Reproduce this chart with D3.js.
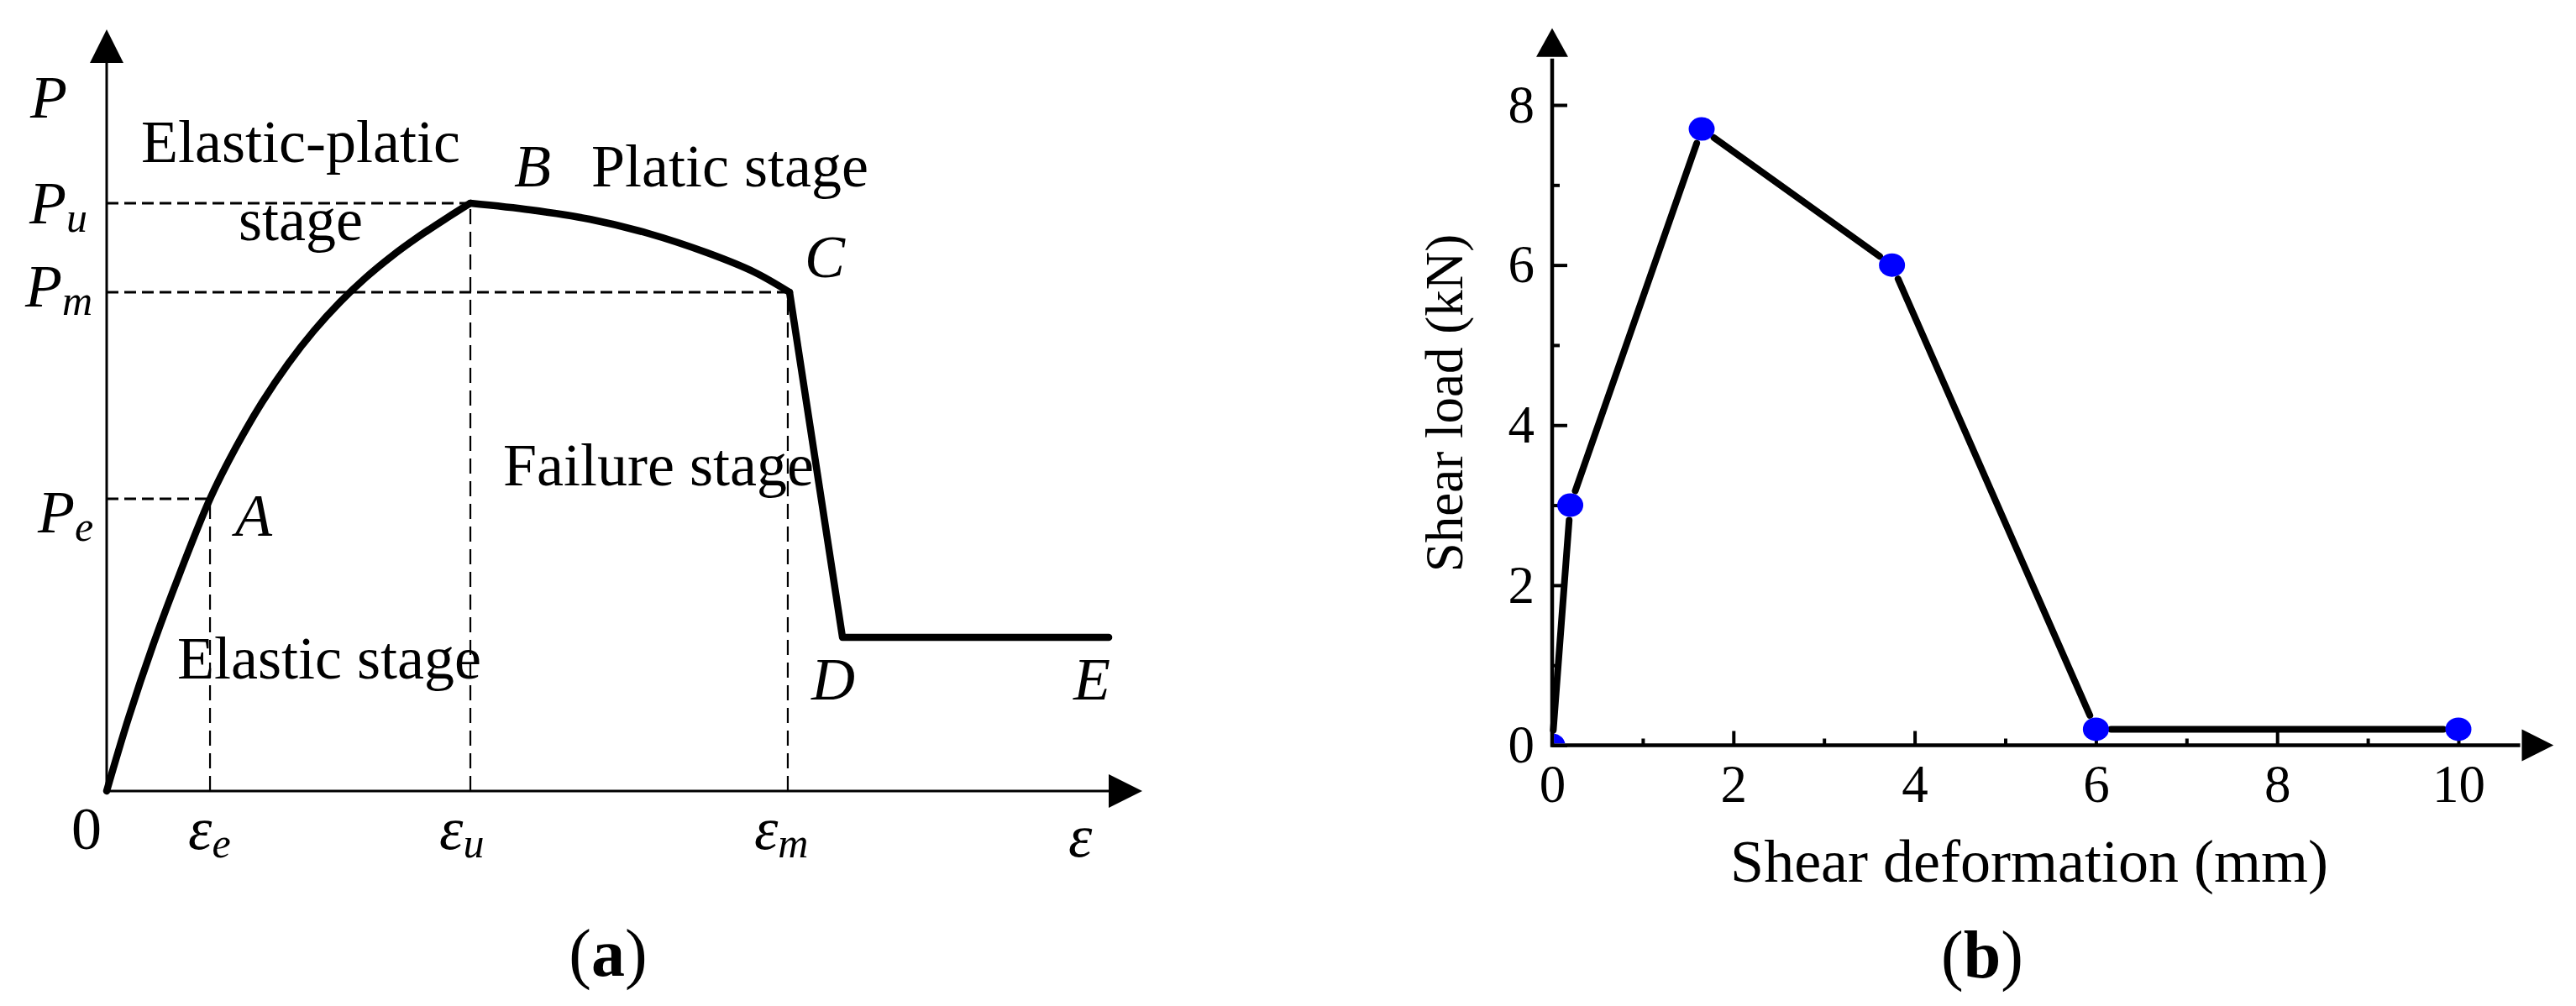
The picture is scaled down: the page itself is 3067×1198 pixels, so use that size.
<!DOCTYPE html>
<html><head><meta charset="utf-8">
<script src="https://cdn.jsdelivr.net/npm/d3@7"></script>
<style>html,body{margin:0;padding:0;background:#fff;} svg{display:block;}</style>
</head><body>
<svg id="chart" width="3067" height="1198"></svg>
<script>
// ---------- Panel (a): schematic load–strain curve (normalized units) ----------
// rising branch O -> A -> B
const riseX = [0, 0.0211, 0.0448, 0.0712, 0.0998, 0.1249, 0.1500, 0.1752, 0.2003, 0.2255, 0.2506, 0.2758, 0.3009, 0.3260, 0.3512];
const riseY = [0, 0.0959, 0.1918, 0.2878, 0.3837, 0.4514, 0.5101, 0.5610, 0.6046, 0.6422, 0.6746, 0.7028, 0.7276, 0.7502, 0.7718];
// softening branch B -> C
const softX = [0.3512, 0.4096, 0.4663, 0.5231, 0.5799, 0.6253, 0.6594];
const softY = [0.7718, 0.7630, 0.7508, 0.7321, 0.7067, 0.6814, 0.6549];
// failure and residual branch C -> D -> E
const failX = [0.6594, 0.7105, 0.9676];
const failY = [0.6549, 0.2018, 0.2018];
// key strains (e, u, m) and key loads (e, u, m)
const keyStrains = [0.0998, 0.3512, 0.6577];
const keyLoads = [0.3837, 0.7718, 0.6549];
const keySubs = ["e", "u", "m"];

// ---------- Panel (b): shear load vs deformation ----------
const shearDef  = [0, 0.2, 1.65, 3.75, 6, 10];
const shearLoad = [0, 3.0, 7.7, 6.0, 0.2, 0.2];
const xTicksB = [0, 2, 4, 6, 8, 10];
const xMinorB = [1, 3, 5, 7, 9];
const yTicksB = [0, 2, 4, 6, 8];
const yMinorB = [1, 3, 5, 7];

const SERIF = "'Liberation Serif','Times New Roman',Times,serif";
const svg = d3.select('#chart');
svg.append('rect').attr('width', 3067).attr('height', 1198).attr('fill', '#fff');

// ================= Panel (a) =================
const xA = d3.scaleLinear().domain([0, 1]).range([127, 1360]);
const yA = d3.scaleLinear().domain([0, 1]).range([942, 35]);
const gA = svg.append('g');

// dashed guides
keyLoads.forEach((L, i) => {
  gA.append('line')
    .attr('x1', xA(0)).attr('x2', xA(keyStrains[i]))
    .attr('y1', yA(L)).attr('y2', yA(L))
    .attr('stroke', '#000').attr('stroke-width', 2.8).attr('stroke-dasharray', '14,7');
  gA.append('line')
    .attr('x1', xA(keyStrains[i])).attr('x2', xA(keyStrains[i]))
    .attr('y1', yA(0)).attr('y2', yA(L))
    .attr('stroke', '#000').attr('stroke-width', 2.2).attr('stroke-dasharray', '18,9');
});

// axes with arrows
const ax0 = xA(0), ay0 = yA(0), ayTop = yA(1), axEnd = xA(1);
gA.append('line').attr('x1', ax0).attr('x2', ax0).attr('y1', ay0 + 1.5).attr('y2', ayTop + 38)
  .attr('stroke', '#000').attr('stroke-width', 3);
gA.append('path').attr('d', `M${ax0},${ayTop} L${ax0 - 20},${ayTop + 40} L${ax0 + 20},${ayTop + 40} Z`).attr('fill', '#000');
gA.append('line').attr('x1', ax0 - 1.5).attr('x2', axEnd - 38).attr('y1', ay0).attr('y2', ay0)
  .attr('stroke', '#000').attr('stroke-width', 3);
gA.append('path').attr('d', `M${axEnd},${ay0} L${axEnd - 40},${ay0 - 20} L${axEnd - 40},${ay0 + 20} Z`).attr('fill', '#000');

// curve
const lineA = d3.line().x(d => xA(d[0])).y(d => yA(d[1]));
const styleCurve = sel => sel.attr('fill', 'none').attr('stroke', '#000').attr('stroke-width', 8.5)
  .attr('stroke-linecap', 'round').attr('stroke-linejoin', 'round');
gA.append('path').datum(d3.zip(riseX, riseY)).attr('d', lineA.curve(d3.curveCatmullRom.alpha(0.5))).call(styleCurve);
gA.append('path').datum(d3.zip(softX, softY)).attr('d', lineA.curve(d3.curveCatmullRom.alpha(0.5))).call(styleCurve);
gA.append('path').datum(d3.zip(failX, failY)).attr('d', lineA.curve(d3.curveLinear)).call(styleCurve);

// text helpers
function txt(g, x, y, s, opts = {}) {
  const t = g.append('text').attr('x', x).attr('y', y).attr('font-family', SERIF)
    .attr('font-size', opts.size || 72).attr('fill', '#000');
  if (opts.italic) t.attr('font-style', 'italic');
  if (opts.anchor) t.attr('text-anchor', opts.anchor);
  t.text(s);
  return t;
}
function subTxt(g, x, y, main, sub) {
  const t = g.append('text').attr('x', x).attr('y', y).attr('font-family', SERIF)
    .attr('font-size', 72).attr('font-style', 'italic').attr('fill', '#000');
  t.append('tspan').text(main);
  t.append('tspan').attr('font-size', 50).attr('dy', 10).text(sub);
  return t;
}

// y-axis labels
txt(gA, 36, 140, 'P', {italic: true});
const pLabelX = [45, 35, 30];
const pDy = [40, 24, 17];
keyLoads.forEach((L, i) => subTxt(gA, pLabelX[i], yA(L) + pDy[i], 'P', keySubs[i]));
// x-axis labels
txt(gA, 103, 1011, '0', {anchor: 'middle'});
const eOff = [-26, -37, -40];
keyStrains.forEach((S, i) => subTxt(gA, xA(S) + eOff[i], 1011, 'ε', keySubs[i]));
txt(gA, 1272, 1020, 'ε', {italic: true});

// point labels
txt(gA, xA(riseX[4]) + 30, 638, 'A', {italic: true});
txt(gA, xA(riseX[14]) + 52, 222, 'B', {italic: true});
txt(gA, xA(softX[6]) + 18, 330, 'C', {italic: true});
txt(gA, xA(failX[1]) - 37, 833, 'D', {italic: true});
txt(gA, xA(failX[2]) - 42, 833, 'E', {italic: true});

// stage labels
txt(gA, 358, 193, 'Elastic-platic', {anchor: 'middle'});
txt(gA, 358, 286, 'stage', {anchor: 'middle'});
txt(gA, 704, 222, 'Platic stage');
txt(gA, 599, 578, 'Failure stage');
txt(gA, 211, 808, 'Elastic stage');

// (a)
const la = svg.append('text').attr('x', 724).attr('y', 1162).attr('text-anchor', 'middle')
  .attr('font-family', SERIF).attr('font-size', 80).attr('fill', '#000');
la.append('tspan').text('(');
la.append('tspan').attr('font-weight', 'bold').text('a');
la.append('tspan').text(')');

// ================= Panel (b) =================
const xB = d3.scaleLinear().domain([0, 10]).range([1848, 2927]);
const yB = d3.scaleLinear().domain([0, 8]).range([887.5, 125]);
const gB = svg.append('g');

// axis lines + arrows
const bx0 = xB(0), by0 = yB(0);
const yTip = yB(8.96), yBase = yB(8.6);
const xTip = xB(11.05), xBase = xB(10.7);
gB.append('line').attr('x1', bx0).attr('x2', bx0).attr('y1', by0 + 2).attr('y2', yBase + 2)
  .attr('stroke', '#000').attr('stroke-width', 4.5);
gB.append('path').attr('d', `M${bx0},${yTip} L${bx0 - 19},${yBase} L${bx0 + 19},${yBase} Z`).attr('fill', '#000');
gB.append('line').attr('x1', bx0 - 2).attr('x2', xBase - 2).attr('y1', by0).attr('y2', by0)
  .attr('stroke', '#000').attr('stroke-width', 4.5);
gB.append('path').attr('d', `M${xTip},${by0} L${xBase},${by0 - 19} L${xBase},${by0 + 19} Z`).attr('fill', '#000');

function styleAxis(g) {
  g.select('.domain').remove();
  g.selectAll('.tick line').attr('stroke', '#000').attr('stroke-width', 4);
  g.selectAll('.tick text').attr('font-family', SERIF).attr('font-size', 63).attr('fill', '#000');
}
gB.append('g').attr('transform', `translate(${bx0},0)`)
  .call(d3.axisLeft(yB).tickValues(yTicksB).tickSizeInner(-18).tickSizeOuter(0).tickPadding(21).tickFormat(d3.format('d')))
  .call(styleAxis);
gB.append('g').attr('transform', `translate(${bx0},0)`)
  .call(d3.axisLeft(yB).tickValues(yMinorB).tickSizeInner(-9).tickSizeOuter(0).tickFormat(''))
  .call(styleAxis);
gB.append('g').attr('transform', `translate(0,${by0})`)
  .call(d3.axisBottom(xB).tickValues(xTicksB).tickSizeInner(-17).tickSizeOuter(0).tickPadding(23).tickFormat(d3.format('d')))
  .call(styleAxis);
gB.append('g').attr('transform', `translate(0,${by0})`)
  .call(d3.axisBottom(xB).tickValues(xMinorB).tickSizeInner(-8).tickSizeOuter(0).tickFormat(''))
  .call(styleAxis);

// line segments with gaps at symbols
const pts = d3.zip(shearDef, shearLoad).map(d => [xB(d[0]), yB(d[1])]);
const GAP = 18;
for (let i = 0; i < pts.length - 1; i++) {
  const [x1, y1] = pts[i], [x2, y2] = pts[i + 1];
  const dx = x2 - x1, dy = y2 - y1, len = Math.hypot(dx, dy);
  const ux = dx / len, uy = dy / len;
  gB.append('line')
    .attr('x1', x1 + ux * GAP).attr('y1', y1 + uy * GAP)
    .attr('x2', x2 - ux * GAP).attr('y2', y2 - uy * GAP)
    .attr('stroke', '#000').attr('stroke-width', 8).attr('stroke-linecap', 'round');
}
// symbols
svg.append('defs').append('clipPath').attr('id', 'plotClipB')
  .append('rect').attr('x', bx0 + 2.2).attr('y', 0).attr('width', 3067 - bx0).attr('height', by0 - 2.2);
gB.append('g').attr('clip-path', 'url(#plotClipB)')
  .selectAll('ellipse').data(d3.zip(shearDef, shearLoad)).join('ellipse')
  .attr('cx', d => xB(d[0])).attr('cy', d => yB(d[1]))
  .attr('rx', 15.5).attr('ry', 14).attr('fill', '#0000FF');

// axis titles
txt(gB, 2416, 1050, 'Shear deformation (mm)', {anchor: 'middle', size: 72});
gB.append('text').attr('transform', 'translate(1741,480) rotate(-90)')
  .attr('text-anchor', 'middle').attr('font-family', SERIF).attr('font-size', 63).attr('fill', '#000')
  .text('Shear load (kN)');

// (b)
const lb = svg.append('text').attr('x', 2360).attr('y', 1164).attr('text-anchor', 'middle')
  .attr('font-family', SERIF).attr('font-size', 80).attr('fill', '#000');
lb.append('tspan').text('(');
lb.append('tspan').attr('font-weight', 'bold').text('b');
lb.append('tspan').text(')');
</script>
</body></html>
